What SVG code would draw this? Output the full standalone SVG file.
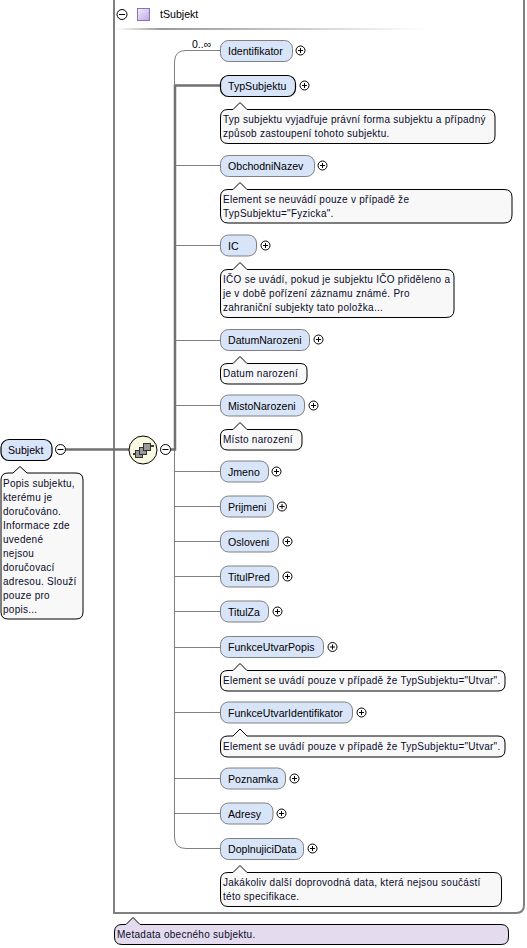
<svg xmlns="http://www.w3.org/2000/svg" width="527" height="948" viewBox="0 0 527 948">
<style>
text{font-family:"Liberation Sans",Arial,sans-serif;fill:#000}
.l{font-size:10.600px}
.d{font-size:10px;letter-spacing:.27px;fill:#0a0a2a}
.p{fill:#d8e4f8;stroke:#808080;stroke-width:1}
.s{fill:#d8e4f8;stroke:#000;stroke-width:1.2}
.c{fill:#f8f8f8;stroke:#000;stroke-width:1}
.b{fill:#fff;stroke:#000;stroke-width:1}
.m{fill:none;stroke:#000;stroke-width:1}
.w{fill:none;stroke:#808080;stroke-width:1}
.t{fill:none;stroke:#707070;stroke-width:2.500}
</style>
<defs>
<linearGradient id="g"><stop offset="0" stop-color="#fff"/><stop offset=".15" stop-color="#999"/><stop offset="1" stop-color="#fff"/></linearGradient>
<linearGradient id="h" x1="0" y1="0" x2="1" y2="1"><stop offset="0" stop-color="#f4f0fa"/><stop offset="1" stop-color="#b8a8dc"/></linearGradient>
<radialGradient id="y"><stop offset="0" stop-color="#fffff0"/><stop offset="1" stop-color="#f8f8dc"/></radialGradient>
<g id="plus"><circle r="4.500" class="b"/><path d="M-2.500 0H2.500M0-2.500V2.500" class="m"/></g>
<g id="minus"><circle r="5" class="b"/><path d="M-3 0H3" class="m"/></g>
</defs>
<g id="tSubjekt">
<path d="M114 0V913H516Q524 913 524 905V0" fill="#fff" stroke="#808080" stroke-width="2"/>
<rect x="116" y="28" width="310" height="2" fill="url(#g)"/>
<use href="#minus" x="122" y="14.500"/>
<rect x="137.500" y="8.500" width="12" height="12" fill="url(#h)" stroke="#8a70c0"/>
<text x="160" y="18" class="l">tSubjekt</text>
</g>
<g id="connectors">
<path class="t" d="M65 449.500H129"/>
<path class="t" d="M171 449.500H175V85.500H220"/>
<path class="w" d="M220 50.500H186Q174.500 50.500 174.500 62V86"/>
<path class="w" d="M174.500 450V837Q174.500 848.500 186 848.500H220"/>
<path class="w" d="M175 165.500H220M175 245.500H220M175 340.500H220M175 405.500H220M175 471.500H220M175 506.500H220M175 541.500H220M175 576.500H220M175 611.500H220M175 647.500H220M175 712.500H220M175 778.500H220M175 813.500H220"/>
</g>
<g id="seq">
<circle cx="143" cy="450" r="14" fill="url(#y)" stroke="#000"/>
<path d="M133 454H137M150 446H154" stroke="#000" stroke-width="1.500"/>
<rect x="135.500" y="450.500" width="7" height="7" fill="#999" stroke="#333"/><rect x="139.500" y="447.500" width="7" height="7" fill="#999" stroke="#333"/><rect x="143.500" y="443.500" width="7" height="7" fill="#999" stroke="#333"/>
<use href="#minus" x="165.500" y="449.500"/>
</g>
<g id="Subjekt">
<rect x="1" y="439.500" width="51" height="21" rx="8" class="s"/>
<text x="8" y="454" class="l">Subjekt</text>
<use href="#minus" x="60.500" y="449.500"/>
<path class="c" d="M8 473H13L20 466.500L27 473H76Q83 473 83 480V612Q83 619 76 619H8Q1 619 1 612V480Q1 473 8 473Z"/>
<text class="d" x="3" y="487">Popis subjektu,</text><text class="d" x="3" y="501">kterému je</text><text class="d" x="3" y="515">doručováno.</text><text class="d" x="3" y="529">Informace zde</text><text class="d" x="3" y="543">uvedené</text><text class="d" x="3" y="557">nejsou</text><text class="d" x="3" y="571">doručovací</text><text class="d" x="3" y="585">adresou. Slouží</text><text class="d" x="3" y="599">pouze pro</text><text class="d" x="3" y="613">popis...</text>
</g>
<g id="Identifikator"><rect x="220.500" y="40.500" width="72" height="21" rx="8" class="p"/><text x="228" y="55" class="l">Identifikator</text><use href="#plus" x="300.500" y="50.500"/></g>
<g id="TypSubjektu"><rect x="220.500" y="75.500" width="75" height="21" rx="8" class="s"/><text x="228" y="90" class="l">TypSubjektu</text><use href="#plus" x="304.500" y="85.500"/>
<path class="c" d="M228 109.500H233L240 102.500L247 109.500H487Q495 109.500 495 117V136Q495 143.500 487 143.500H228Q220.500 143.500 220.500 136V117Q220.500 109.500 228 109.500Z"/>
<text class="d" x="223" y="123">Typ subjektu vyjadřuje právní forma subjektu a případný</text><text class="d" x="223" y="137">způsob zastoupení tohoto subjektu.</text></g>
<g id="ObchodniNazev"><rect x="220.500" y="155.500" width="94" height="21" rx="8" class="p"/><text x="228" y="170" class="l">ObchodniNazev</text><use href="#plus" x="322.500" y="165.500"/>
<path class="c" d="M228 189.500H233L240 182.500L247 189.500H504Q512 189.500 512 197V215Q512 223 504 223H228Q220.500 223 220.500 215V197Q220.500 189.500 228 189.500Z"/>
<text class="d" x="223" y="203">Element se neuvádí pouze v případě že</text><text class="d" x="223" y="217">TypSubjektu="Fyzicka".</text></g>
<g id="IC"><rect x="220.500" y="235" width="36" height="21" rx="8" class="p"/><text x="228" y="249.500" class="l">IC</text><use href="#plus" x="265.500" y="245.500"/>
<path class="c" d="M228 269.500H233L240 262.500L247 269.500H446Q454 269.500 454 277V310Q454 317.500 446 317.500H228Q220.500 317.500 220.500 310V277Q220.500 269.500 228 269.500Z"/>
<text class="d" x="223" y="283">IČO se uvádí, pokud je subjektu IČO přiděleno a</text><text class="d" x="223" y="297">je v době pořízení záznamu známé. Pro</text><text class="d" x="223" y="311">zahraniční subjekty tato položka...</text></g>
<g id="DatumNarozeni"><rect x="220.500" y="329.500" width="89" height="21" rx="8" class="p"/><text x="228" y="344" class="l">DatumNarozeni</text><use href="#plus" x="318.500" y="339.500"/>
<path class="c" d="M228 363.500H233L240 356.500L247 363.500H300Q307 363.500 307 370V377Q307 384 300 384H228Q220.500 384 220.500 377V370Q220.500 363.500 228 363.500Z"/>
<text class="d" x="223" y="377">Datum narození</text></g>
<g id="MistoNarozeni"><rect x="220.500" y="395" width="84" height="21" rx="8" class="p"/><text x="228" y="409.500" class="l">MistoNarozeni</text><use href="#plus" x="313.500" y="405.500"/>
<path class="c" d="M228 429.500H233L240 422.500L247 429.500H295Q302 429.500 302 436V443Q302 450 295 450H228Q220.500 450 220.500 443V436Q220.500 429.500 228 429.500Z"/>
<text class="d" x="223" y="443">Místo narození</text></g>
<g id="Jmeno"><rect x="220.500" y="461" width="48" height="21" rx="8" class="p"/><text x="228" y="475.500" class="l">Jmeno</text><use href="#plus" x="276.500" y="471.500"/></g>
<g id="Prijmeni"><rect x="220.500" y="496" width="53" height="21" rx="8" class="p"/><text x="228" y="510.500" class="l">Prijmeni</text><use href="#plus" x="282" y="506.500"/></g>
<g id="Osloveni"><rect x="220.500" y="531" width="58" height="21" rx="8" class="p"/><text x="228" y="545.500" class="l">Osloveni</text><use href="#plus" x="287.500" y="541.500"/></g>
<g id="TitulPred"><rect x="220.500" y="566" width="58" height="21" rx="8" class="p"/><text x="228" y="580.500" class="l">TitulPred</text><use href="#plus" x="287.500" y="576.500"/></g>
<g id="TitulZa"><rect x="220.500" y="601" width="48" height="21" rx="8" class="p"/><text x="228" y="615.500" class="l">TitulZa</text><use href="#plus" x="277.500" y="611.500"/></g>
<g id="FunkceUtvarPopis"><rect x="220.500" y="636.500" width="103" height="21" rx="8" class="p"/><text x="228" y="651" class="l">FunkceUtvarPopis</text><use href="#plus" x="332.500" y="647"/>
<path class="c" d="M228 670.500H233L240 663.500L247 670.500H498Q505 670.500 505 677V684Q505 691 498 691H228Q220.500 691 220.500 684V677Q220.500 670.500 228 670.500Z"/>
<text class="d" x="223" y="684">Element se uvádí pouze v případě že TypSubjektu="Utvar".</text></g>
<g id="FunkceUtvarIdentifikator"><rect x="220.500" y="702" width="132" height="21" rx="8" class="p"/><text x="228" y="716.500" class="l">FunkceUtvarIdentifikator</text><use href="#plus" x="361.500" y="712.500"/>
<path class="c" d="M228 736H233L240 729L247 736H498Q505 736 505 743V750Q505 757 498 757H228Q220.500 757 220.500 750V743Q220.500 736 228 736Z"/>
<text class="d" x="223" y="750">Element se uvádí pouze v případě že TypSubjektu="Utvar".</text></g>
<g id="Poznamka"><rect x="220.500" y="768" width="65" height="21" rx="8" class="p"/><text x="228" y="782.500" class="l">Poznamka</text><use href="#plus" x="294.500" y="778.500"/></g>
<g id="Adresy"><rect x="220.500" y="803" width="52.500" height="21" rx="8" class="p"/><text x="228" y="817.500" class="l">Adresy</text><use href="#plus" x="281.500" y="813.500"/></g>
<g id="DoplnujiciData"><rect x="220.500" y="838.500" width="83" height="21" rx="8" class="p"/><text x="228" y="853" class="l">DoplnujiciData</text><use href="#plus" x="312.500" y="848.500"/>
<path class="c" d="M228 872.500H233L240 865.500L247 872.500H494Q501.500 872.500 501.500 880V898Q501.500 906.500 494 906.500H228Q220.500 906.500 220.500 898V880Q220.500 872.500 228 872.500Z"/>
<text class="d" x="223" y="886">Jakákoliv další doprovodná data, která nejsou součástí</text><text class="d" x="223" y="900">této specifikace.</text></g>
<text x="192" y="48" style="font-size:10.500px">0..∞</text>
<g id="note"><path d="M122 924.500H126L133 917.500L140 924.500H501Q508.500 924.500 508.500 932V937Q508.500 944.500 501 944.500H122Q114.500 944.500 114.500 937V932Q114.500 924.500 122 924.500Z" fill="#e4dcee" stroke="#000"/>
<text class="d" x="117" y="938">Metadata obecného subjektu.</text></g>
</svg>
